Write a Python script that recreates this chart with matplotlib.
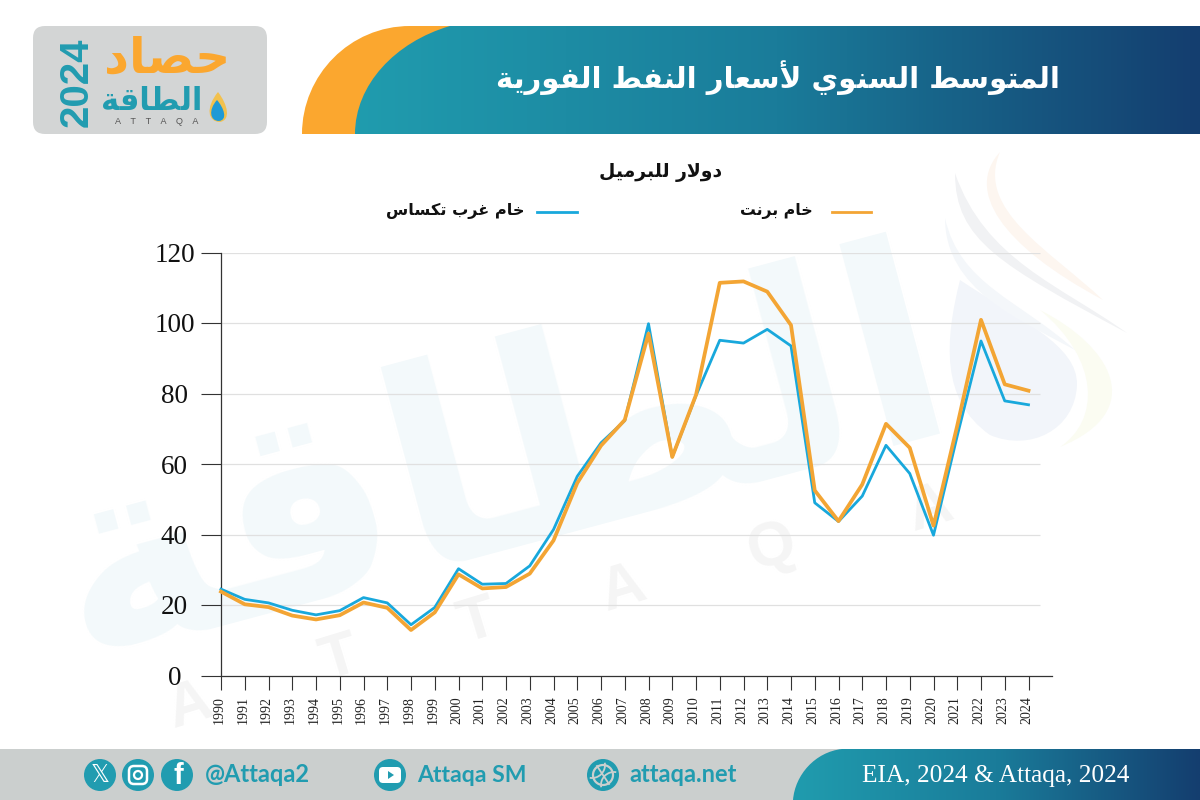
import numpy as np
import matplotlib
matplotlib.use('Agg')
import matplotlib.pyplot as plt
from matplotlib.colors import LinearSegmentedColormap
from matplotlib.patches import Circle, FancyBboxPatch, PathPatch, Polygon, Arc
from matplotlib.path import Path
from matplotlib.transforms import ScaledTranslation

years = list(range(1990, 2025))
wti = [24.5, 21.6, 20.6, 18.5, 17.2, 18.4, 22.1, 20.6, 14.4, 19.3, 30.3, 25.9, 26.1, 31.1, 41.4, 56.5,
       66.0, 72.3, 99.8, 62.0, 79.4, 95.1, 94.3, 98.2, 93.5, 49.0, 43.7, 50.9, 65.3, 57.3, 39.8, 68.0,
       94.9, 77.9, 76.8]
brent = [23.8, 20.2, 19.4, 17.0, 15.9, 17.1, 20.7, 19.2, 12.9, 17.9, 28.7, 24.7, 25.1, 28.9, 38.3, 54.6,
         65.2, 72.5, 97.0, 62.0, 79.6, 111.4, 111.8, 108.9, 99.4, 52.5, 43.8, 54.2, 71.4, 64.6, 42.5, 70.9,
         100.9, 82.6, 80.8]
y_ticks = [0, 20, 40, 60, 80, 100, 120]

title = 'المتوسط السنوي لأسعار النفط الفورية'
unit = 'دولار للبرميل'
brent_name = 'خام برنت'
wti_name = 'خام غرب تكساس'
source = 'EIA, 2024 & Attaqa, 2024'

TEAL = '#219cb0'
ORANGE = '#fba72f'
BLUE_LINE = '#18a8dc'
BRENT_LINE = '#f3a534'
GREY = '#cbcfce'

# matplotlib does no arabic shaping, so pick the presentation forms by hand
FORMS = {'ا': 0xFE8D, 'أ': 0xFE83, 'ب': 0xFE8F, 'ة': 0xFE93, 'ت': 0xFE95, 'ح': 0xFEA1, 'خ': 0xFEA5,
         'د': 0xFEA9, 'ر': 0xFEAD, 'س': 0xFEB1, 'ص': 0xFEB9, 'ط': 0xFEC1, 'ع': 0xFEC9, 'غ': 0xFECD,
         'ف': 0xFED1, 'ق': 0xFED5, 'ك': 0xFED9, 'ل': 0xFEDD, 'م': 0xFEE1, 'ن': 0xFEE5, 'و': 0xFEED,
         'ي': 0xFEF1}
NO_NEXT = 'اأةدرو'


def shape(text):
    out = []
    i = 0
    while i < len(text):
        c = text[i]
        if c not in FORMS:
            out.append(c)
            i += 1
            continue
        prev = text[i - 1] if i > 0 else ' '
        joined = prev in FORMS and prev not in NO_NEXT
        nxt = text[i + 1] if i + 1 < len(text) else ' '
        if c == 'ل' and nxt in 'اأ':
            base = 0xFEFB if nxt == 'ا' else 0xFEF7
            out.append(chr(base + (1 if joined else 0)))
            i += 2
            continue
        goes_on = c not in NO_NEXT and nxt in FORMS
        if joined and goes_on:
            form = 3
        elif goes_on:
            form = 2
        elif joined:
            form = 1
        else:
            form = 0
        out.append(chr(FORMS[c] + form))
        i += 1
    return ''.join(out[::-1])


def blob(points, color, z):
    # closed shape from a start point and cubic segments
    codes = [Path.MOVETO] + [Path.CURVE4] * (len(points) - 1)
    bg.add_patch(PathPatch(Path(points, codes), fc=color, ec='none', zorder=z))


fig = plt.figure(figsize=(12, 8), dpi=100, facecolor='white')

# page furniture, in pixels
bg = fig.add_axes([0, 0, 1, 1], zorder=0)
bg.axis('off')

# watermark
bg.text(500, 468, shape('الطاقة'), fontsize=198, fontweight='bold', family='DejaVu Sans', color='#f3f9fb',
        rotation=15, ha='center', va='center', rotation_mode='anchor', zorder=1)
for letter, wx, wy in [('A', 190, 707), ('T', 340, 660), ('T', 478, 623), ('A', 623, 590), ('Q', 772, 548),
                       ('A', 930, 510)]:
    bg.text(wx, wy, letter, fontsize=44, fontweight='bold', family='Liberation Sans', color='#f5f5f5', rotation=17,
            ha='center', va='center', zorder=1.5)
blob([(960, 280), (945, 340), (940, 400), (990, 435), (1030, 452), (1075, 430), (1077, 385),
      (1078, 345), (1020, 320), (960, 280)], '#f2f5fa', 1.2)
blob([(955, 173), (955, 240), (1000, 265), (1127, 333), (1060, 285), (985, 260), (955, 173)], '#f1f2f4', 1.2)
blob([(1000, 152), (965, 190), (1000, 245), (1103, 300), (1050, 250), (975, 210), (1000, 152)], '#fdf6f0', 1.2)
blob([(1040, 310), (1110, 345), (1150, 410), (1060, 447), (1100, 420), (1100, 360), (1040, 310)], '#fbfcf2', 1.2)
blob([(945, 218), (960, 285), (1020, 300), (1075, 350), (1020, 320), (945, 290), (945, 218)], '#f4f7fa', 1.2)

# logo box
bg.add_patch(FancyBboxPatch((41, 34), 218, 92, boxstyle='round,pad=8,rounding_size=12', fc='#d3d5d5', ec='none',
                            zorder=3))
bg.text(167, 58, shape('حصاد'), fontsize=35, fontweight='bold', family='DejaVu Sans', color=ORANGE, ha='center',
        va='center', zorder=4)
bg.text(152, 102, shape('الطاقة'), fontsize=22, fontweight='bold', family='DejaVu Sans', color=TEAL, ha='center',
        va='center', zorder=4)
bg.text(77, 82, '2024', fontsize=29, fontweight='bold', family='Liberation Sans', color=TEAL, rotation=90,
        ha='center', va='center', zorder=4)
bg.text(157, 122, 'A    T    T    A    Q    A', fontsize=6.5, family='Liberation Sans', color='#555555', ha='center',
        va='center', zorder=4)
blob([(218, 92), (205, 108), (208, 122), (220, 122), (231, 120), (228, 105), (218, 92)], '#f2c14e', 4)
blob([(217, 100), (208, 110), (210, 121), (219, 121), (228, 120), (224, 108), (217, 100)], '#1f9ad6', 4.1)

# header banner
grad = LinearSegmentedColormap.from_list('band', ['#209cae', '#1a7c9a', '#143e6f'])
g = np.linspace(0, 1, 256).reshape(1, -1)
orange_path = Path([(302, 134), (302, 75), (350, 26), (410, 26), (480, 26), (480, 134), (302, 134)],
                   [Path.MOVETO, Path.CURVE4, Path.CURVE4, Path.CURVE4, Path.LINETO, Path.LINETO, Path.CLOSEPOLY])
bg.add_patch(PathPatch(orange_path, fc=ORANGE, ec='none', zorder=3))
band_path = Path([(355, 134), (355, 85), (395, 42), (450, 26), (1200, 26), (1200, 134), (355, 134)],
                 [Path.MOVETO, Path.CURVE4, Path.CURVE4, Path.CURVE4, Path.LINETO, Path.LINETO, Path.CLOSEPOLY])
band_patch = PathPatch(band_path, fc='none', ec='none', zorder=3.1)
bg.add_patch(band_patch)
im = bg.imshow(g, cmap=grad, extent=(355, 1200, 134, 26), aspect='auto', zorder=3.2)
im.set_clip_path(band_patch)
bg.text(778, 78, shape(title), fontsize=21, fontweight='bold', family='DejaVu Sans', color='white', ha='center',
        va='center', zorder=5)

# unit and legend
bg.text(661, 173, shape(unit), fontsize=13.5, fontweight='bold', family='DejaVu Sans', color='#111111', ha='center',
        va='center', zorder=5)
bg.plot([832, 871], [212, 212], color=BRENT_LINE, lw=2.0, zorder=5)
bg.text(813, 211, shape(brent_name), fontsize=11.3, fontweight='bold', family='DejaVu Sans', color='#111111',
        ha='right', va='center', zorder=5)
bg.plot([537, 577], [212, 212], color=BLUE_LINE, lw=2.0, zorder=5)
bg.text(525, 211, shape(wti_name), fontsize=11.6, fontweight='bold', family='DejaVu Sans', color='#111111',
        ha='right', va='center', zorder=5)

# footer
bg.add_patch(Polygon([(0, 749), (1200, 749), (1200, 800), (0, 800)], fc=GREY, ec='none', zorder=3))
foot_path = Path([(793, 800), (795, 775), (815, 752), (842, 749), (1200, 749), (1200, 800), (793, 800)],
                 [Path.MOVETO, Path.CURVE4, Path.CURVE4, Path.CURVE4, Path.LINETO, Path.LINETO, Path.CLOSEPOLY])
foot_patch = PathPatch(foot_path, fc='none', ec='none', zorder=3.1)
bg.add_patch(foot_patch)
im2 = bg.imshow(g, cmap=grad, extent=(793, 1200, 800, 749), aspect='auto', zorder=3.2)
im2.set_clip_path(foot_patch)
bg.text(995.5, 776, source, fontsize=18.3, family='Liberation Serif', color='white', ha='center', va='center', zorder=5)

for cx in [100, 138, 177, 390, 603]:
    bg.add_patch(Circle((cx, 775), 16, fc=TEAL, ec='none', zorder=4))
bg.text(100, 775, '𝕏', fontsize=17, family='DejaVu Sans', color='white', ha='center', va='center', zorder=5)
bg.add_patch(FancyBboxPatch((131, 768), 14, 14, boxstyle='round,pad=2,rounding_size=5', fc='none', ec='white', lw=1.8,
                            zorder=5))
bg.add_patch(Circle((138, 775), 4, fc='none', ec='white', lw=1.6, zorder=5))
bg.text(178, 776, 'f', fontsize=21, fontweight='bold', family='Liberation Sans', color='white', ha='center',
        va='center', zorder=5)
bg.add_patch(FancyBboxPatch((380, 768), 20, 14, boxstyle='round,pad=1,rounding_size=4', fc='white', ec='none', zorder=5))
bg.add_patch(Polygon([(388, 771), (388, 779), (394, 775)], fc=TEAL, ec='none', zorder=6))
bg.add_patch(Circle((603, 775), 10, fc='none', ec=GREY, lw=1.6, zorder=5))
bg.add_patch(Arc((592, 765), 26, 26, theta1=-10, theta2=100, color=GREY, lw=1.3, zorder=5))
bg.add_patch(Arc((614, 785), 26, 26, theta1=170, theta2=280, color=GREY, lw=1.3, zorder=5))
bg.plot([597, 609], [766, 784], color=GREY, lw=1.3, zorder=5)

for tx, label, size in [(205, '@Attaqa2', 17), (417, 'Attaqa SM', 16.6), (629, 'attaqa.net', 17)]:
    bg.text(tx, 775, label, fontsize=size, fontweight='bold', family='Lato', color=TEAL, ha='left', va='center', zorder=5)

bg.set_xlim(0, 1200)
bg.set_ylim(800, 0)

# chart
ax = fig.add_axes([221 / 1200, (800 - 675.5) / 800, 831 / 1200, 423 / 800], zorder=2)
ax.patch.set_alpha(0)
ax.hlines(y_ticks[1:], years[0], 2024.5, color='#e0e0e0', lw=0.9, zorder=1)
ax.plot(years, wti, color=BLUE_LINE, lw=2.0, clip_on=False, zorder=3, label=wti_name)
ax.plot(years, brent, color=BRENT_LINE, lw=2.7, clip_on=False, zorder=4, label=brent_name)

ax.set_xlim(1990, 1990 + 831 / 23.75)
ax.set_ylim(0, 120)
ax.spines['top'].set_visible(False)
ax.spines['right'].set_visible(False)
for s in ['left', 'bottom']:
    ax.spines[s].set_color('#333333')
    ax.spines[s].set_linewidth(0.9)

ax.set_yticks(y_ticks)
ax.set_xticks(years)
ax.set_xticklabels(years, rotation=90, fontsize=10, family='Liberation Serif', color='#222222')
ax.set_yticklabels(y_ticks, fontsize=19.5, family='Liberation Serif', color='#111111', ha='center')
ax.tick_params(axis='y', length=14.5, width=0.8, color='#333333', pad=19)
ax.tick_params(axis='x', length=10, width=0.8, color='#333333', pad=5)
shift = ScaledTranslation(-2 / 100, 0, fig.dpi_scale_trans)
for lab in ax.get_xticklabels():
    lab.set_transform(lab.get_transform() + shift)

fig.savefig('out.png', dpi=100)
